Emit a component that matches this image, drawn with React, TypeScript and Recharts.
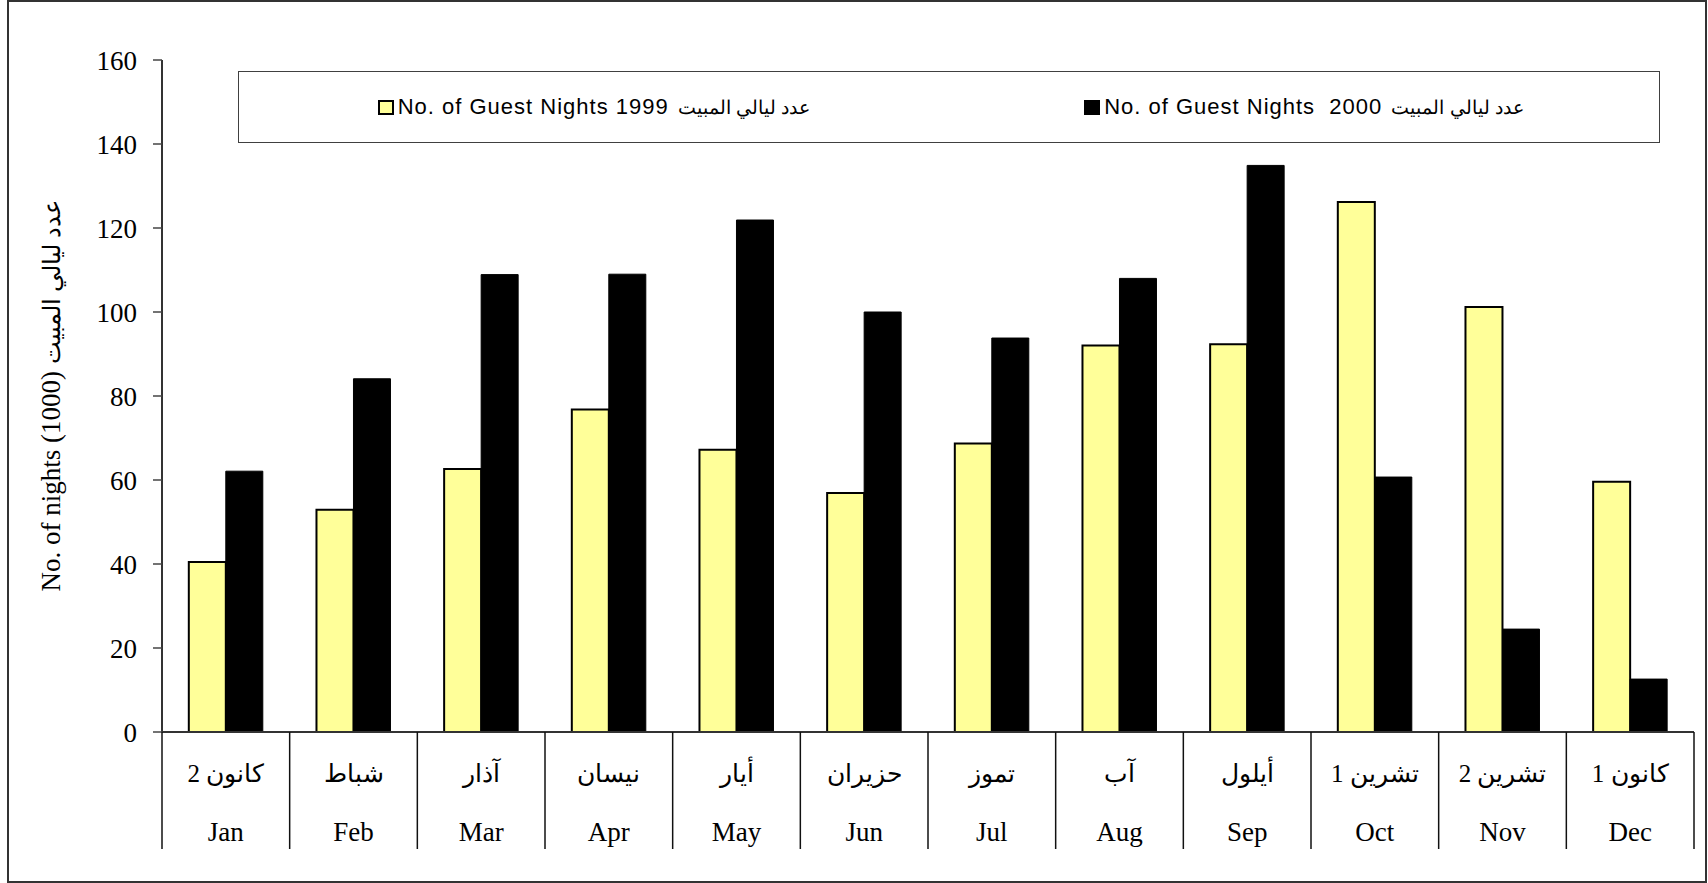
import React from 'react';
import { BarChart, Bar, XAxis, YAxis, Legend } from 'recharts';

const monthsEn = ['Jan', 'Feb', 'Mar', 'Apr', 'May', 'Jun', 'Jul', 'Aug', 'Sep', 'Oct', 'Nov', 'Dec'];
const monthsAr = ['كانون 2', 'شباط', 'آذار', 'نيسان', 'أيار', 'حزيران', 'تموز', 'آب', 'أيلول', 'تشرين 1', 'تشرين 2', 'كانون 1'];
const nights1999 = [40.5, 52.9, 62.6, 76.8, 67.2, 56.9, 68.7, 92.0, 92.3, 126.2, 101.2, 59.6];
const nights2000 = [62.1, 84.1, 108.9, 109.0, 121.9, 100.0, 93.8, 108.0, 134.9, 60.7, 24.5, 12.6];
const yTicks = [0, 20, 40, 60, 80, 100, 120, 140, 160];
const legendEn = ['No. of Guest Nights 1999', 'No. of Guest Nights  2000'];
const legendAr = ['عدد ليالي المبيت', 'عدد ليالي المبيت'];
const yAxisTitleEn = 'No. of nights (1000)';
const yAxisTitleAr = 'عدد ليالي المبيت';
const color1999 = '#FFFF99';
const color2000 = '#000000';

const data = monthsEn.map((en, i) => ({ en, ar: monthsAr[i], v1999: nights1999[i], v2000: nights2000[i] }));
const legendItems = [
  { en: legendEn[0], ar: legendAr[0], color: color1999 },
  { en: legendEn[1], ar: legendAr[1], color: color2000 },
];

const W = 1708;
const H = 883;
const PLOT_LEFT = 162;
const PLOT_RIGHT = 1694;
const BAND = (PLOT_RIGHT - PLOT_LEFT) / monthsEn.length;
const SERIF = '"Liberation Serif", "Times New Roman", serif';
const SANS = '"Liberation Sans", Arial, sans-serif';

const MonthTick = (props: any) => {
  const { x, y, payload, index } = props;
  const left = x - BAND / 2;
  const right = x + BAND / 2;
  return (
    <g>
      <line x1={left} y1={y} x2={left} y2={y + 117} stroke="#111" strokeWidth={1.5} />
      {index === monthsEn.length - 1 && (
        <line x1={right} y1={y} x2={right} y2={y + 117} stroke="#111" strokeWidth={1.5} />
      )}
      <text x={x} y={y + 41} textAnchor="middle" dominantBaseline="central" fontFamily={SERIF} fontSize={25} fill="#000">
        {monthsAr[index]}
      </text>
      <text x={x} y={y + 100} textAnchor="middle" dominantBaseline="central" fontFamily={SERIF} fontSize={27} fill="#000">
        {payload.value}
      </text>
    </g>
  );
};

const YTitle = () => (
  <text
    x={60}
    y={396}
    transform="rotate(-90 60 396)"
    textAnchor="middle"
    fontFamily={SERIF}
    fontSize={27}
    fill="#000"
  >
    {yAxisTitleEn + ' '}
    <tspan fontSize={24}>{yAxisTitleAr}</tspan>
  </text>
);

const LegendBox = () => (
  <div
    style={{
      boxSizing: 'border-box',
      width: 1422,
      height: 72,
      border: '1px solid #404040',
      display: 'flex',
      alignItems: 'center',
      background: '#fff',
    }}
  >
    {legendItems.map((it) => (
      <div key={it.en} style={{ flex: 1, display: 'flex', justifyContent: 'center', alignItems: 'center' }}>
        <span
          style={{
            display: 'inline-block',
            width: 16,
            height: 15,
            boxSizing: 'border-box',
            background: it.color,
            border: '2px solid #000',
            marginRight: 4,
          }}
        />
        <span style={{ fontFamily: SANS, fontSize: 22, letterSpacing: 1, whiteSpace: 'pre', color: '#000' }}>{it.en}</span>
        <span style={{ fontFamily: SANS, fontSize: 19, whiteSpace: 'pre', color: '#000', marginLeft: 9 }}>{it.ar}</span>
      </div>
    ))}
  </div>
);

export default function App() {
  return (
    <div style={{ position: 'absolute', left: 0, top: 0, width: W, height: H, background: '#fff' }}>
      <BarChart
        width={W}
        height={H}
        data={data}
        margin={{ top: 60, right: W - PLOT_RIGHT, left: 0, bottom: 0 }}
        barCategoryGap="21%"
        barGap={0}
      >
        <XAxis
          dataKey="en"
          height={151}
          interval={0}
          tickSize={0}
          tickMargin={0}
          tickLine={false}
          axisLine={{ stroke: '#333', strokeWidth: 2 }}
          tick={<MonthTick />}
        />
        <XAxis
          xAxisId="frame"
          dataKey="en"
          orientation="top"
          height={0}
          tick={false}
          tickLine={false}
          axisLine={{ stroke: '#8a8a8a', strokeWidth: 2 }}
        />
        <YAxis
          width={PLOT_LEFT}
          domain={[0, 160]}
          ticks={yTicks}
          interval={0}
          tickSize={9}
          tickMargin={16}
          axisLine={{ stroke: '#333', strokeWidth: 2 }}
          tickLine={{ stroke: '#444', strokeWidth: 1.5 }}
          tick={{ fontFamily: SERIF, fontSize: 27, fill: '#000' }}
          label={{ content: () => <YTitle /> }}
        />
        <YAxis
          yAxisId="frame"
          orientation="right"
          width={0}
          domain={[0, 160]}
          tick={false}
          tickLine={false}
          axisLine={{ stroke: '#8a8a8a', strokeWidth: 2 }}
        />
        <Legend
          layout="horizontal"
          verticalAlign="middle"
          align="center"
          content={<LegendBox />}
          wrapperStyle={{ left: 238, top: 71, width: 1422, height: 72 }}
        />
        <Bar dataKey="v1999" name={legendEn[0]} fill={color1999} stroke="#000" strokeWidth={2} isAnimationActive={false} />
        <Bar dataKey="v2000" name={legendEn[1]} fill={color2000} stroke="#000" strokeWidth={1} isAnimationActive={false} />
      </BarChart>
      <div
        style={{
          position: 'absolute',
          left: 7,
          top: 0,
          width: 1700,
          height: 883,
          boxSizing: 'border-box',
          border: '2px solid #333',
          pointerEvents: 'none',
        }}
      />
    </div>
  );
}
